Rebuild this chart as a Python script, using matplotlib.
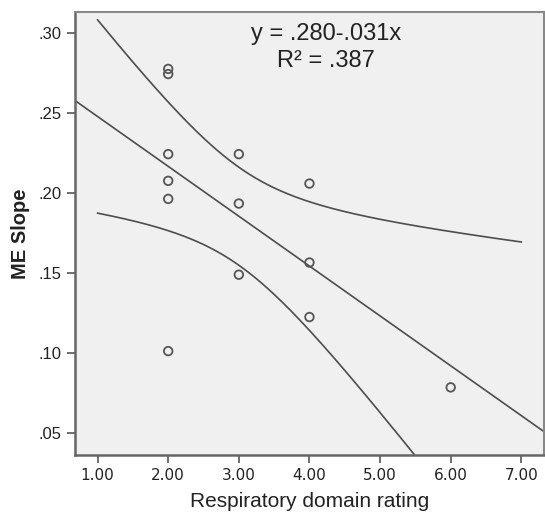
import numpy as np
import matplotlib.pyplot as plt

# data
rating = np.array([2, 2, 2, 2, 2, 2, 3, 3, 3, 4, 4, 4, 6], dtype=float)
me_slope = np.array([.2777, .2745, .2244, .2077, .1964, .1012,
                     .2244, .1935, .1490, .2060, .1566, .1225, .0785])
x_ticks = [1, 2, 3, 4, 5, 6, 7]
x_tick_labels = ['1.00', '2.00', '3.00', '4.00', '5.00', '6.00', '7.00']
y_ticks = [.05, .10, .15, .20, .25, .30]
y_tick_labels = ['.05', '.10', '.15', '.20', '.25', '.30']
fit_text = 'y = .280-.031x\nR\u00b2 = .387'

# linear fit and 95% confidence band of the mean
n = len(rating)
b1, b0 = np.polyfit(rating, me_slope, 1)
resid = me_slope - (b0 + b1 * rating)
s = np.sqrt(np.sum(resid ** 2) / (n - 2))
sxx = np.sum((rating - rating.mean()) ** 2)
t_crit = 2.201  # t(0.975, df=11)

xlim = (0.68, 7.32)
xs_line = np.linspace(xlim[0], xlim[1], 200)
xs_band = np.linspace(1, 7, 200)
half = t_crit * s * np.sqrt(1 / n + (xs_band - rating.mean()) ** 2 / sxx)
yb = b0 + b1 * xs_band

fig = plt.figure(figsize=(5.45, 5.18), dpi=100)
ax = fig.add_axes([0.1376, 0.1216, 0.8604, 0.8552])
ax.set_facecolor('#f0f0f0')

line_col = '#4d4d4d'
ax.plot(xs_line, b0 + b1 * xs_line, color=line_col, lw=1.2)
ax.plot(xs_band, yb + half, color=line_col, lw=1.2)
ax.plot(xs_band, yb - half, color=line_col, lw=1.2)
ax.scatter(rating, me_slope, s=38, facecolors='none', edgecolors='#555555',
           linewidths=1.3, zorder=3)

ax.set_xlim(*xlim)
ax.set_ylim(0.0362, 0.3133)
ax.set_xticks(x_ticks)
ax.set_xticklabels(x_tick_labels, fontsize=11, color='#222222', family='DejaVu Sans')
ax.set_yticks(y_ticks)
ax.set_yticklabels(y_tick_labels, fontsize=12, color='#222222', family='Liberation Sans')
ax.tick_params(axis='both', length=6, width=1.2, color='#555555')

for side in ['left', 'bottom']:
    ax.spines[side].set_color('#666666')
    ax.spines[side].set_linewidth(1.8)
for side in ['top', 'right']:
    ax.spines[side].set_color('#888888')
    ax.spines[side].set_linewidth(1.5)

ax.set_xlabel('Respiratory domain rating', fontsize=15, family='Liberation Sans',
              color='#222222', labelpad=6)
ax.set_ylabel('ME Slope', fontsize=14.5, fontweight='bold', family='Liberation Sans',
              color='#222222', labelpad=6)

ax.text(0.535, 0.975, fit_text, transform=ax.transAxes, ha='center', va='top',
        fontsize=17, family='Liberation Sans', color='#222222', linespacing=1.3)

fig.savefig('out.png', dpi=100)
